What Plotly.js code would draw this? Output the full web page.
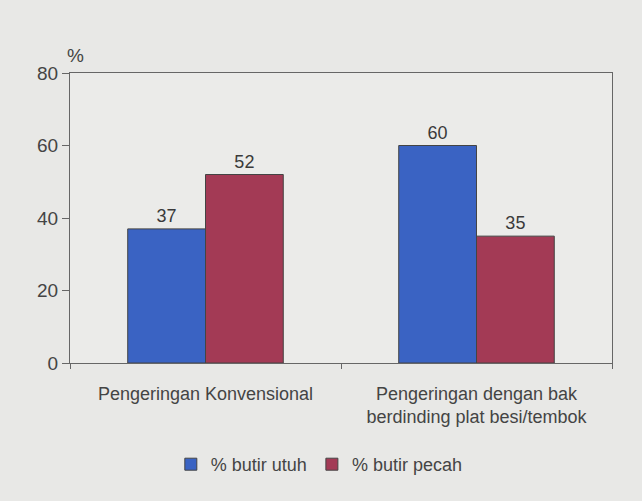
<!DOCTYPE html>
<html><head><meta charset="utf-8">
<script src="https://cdn.plot.ly/plotly-3.0.1.min.js"></script>
<style>html,body{margin:0;padding:0;background:#e8e8e6;}</style>
</head><body>
<div id="chart" style="width:642px;height:501px;"></div>
<script>
const categories = ["Pengeringan Konvensional", "Pengeringan dengan bak<br>berdinding plat besi/tembok"];
const seriesNames = ["% butir utuh", "% butir pecah"];
const utuh = [37, 60];
const pecah = [52, 35];
const yTicks = [0, 20, 40, 60, 80];

const fontFam = "Liberation Sans, Arial, sans-serif";
const mk = (name, vals, color) => ({
  type: "bar", name: name, x: categories, y: vals,
  text: vals.map(String), textposition: "outside", cliponaxis: false,
  textfont: {family: fontFam, size: 18, color: "#3a3a3a"},
  marker: {color: color, line: {color: "#444", width: 1}},
  hoverinfo: "skip"
});
const data = [mk(seriesNames[0], utuh, "#3a63c3"), mk(seriesNames[1], pecah, "#a33a55")];
const layout = {
  width: 642, height: 501,
  margin: {l: 70, r: 30, t: 73, b: 138},
  paper_bgcolor: "#e8e8e6", plot_bgcolor: "#ebebe9",
  font: {family: fontFam, size: 18, color: "#444"},
  barmode: "group", bargap: 0.426, bargroupgap: 0,
  showlegend: true,
  legend: {orientation: "h", x: 0.46, xanchor: "center", y: -0.35, yanchor: "middle",
           font: {size: 18, color: "#444"}, itemwidth: 30, traceorder: "normal", tracegroupgap: 0},
  xaxis: {showline: true, linecolor: "#666", linewidth: 1, mirror: true,
          ticks: "outside", tickson: "boundaries", ticklen: 5, tickcolor: "#666",
          ticklabelstandoff: 14,
          tickfont: {size: 18, color: "#444"}, showgrid: false},
  yaxis: {range: [0, 80], tickvals: yTicks, showline: true, linecolor: "#666", linewidth: 1, mirror: true,
          ticks: "outside", ticklen: 7, tickcolor: "#666", showgrid: false, zeroline: false,
          tickfont: {size: 19, color: "#444"}},
  annotations: [{text: "%", xref: "paper", yref: "paper", x: 0, y: 1, xanchor: "center", yanchor: "bottom",
                 xshift: 5, yshift: 5, showarrow: false, font: {size: 19, color: "#444"}}]
};
Plotly.newPlot("chart", data, layout, {displayModeBar: false, staticPlot: true});
</script>
</body></html>
